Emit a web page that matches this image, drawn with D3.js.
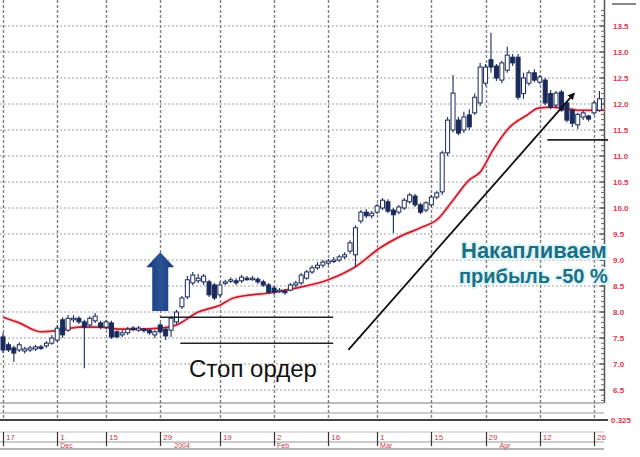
<!DOCTYPE html>
<html><head><meta charset="utf-8">
<script src="https://cdn.jsdelivr.net/npm/d3@7"></script>
<style>body{margin:0;background:#fff}svg{display:block}</style>
</head><body>
<script>
// ---- data ----
const opens  = [7.52,7.37,7.31,7.27,7.25,7.27,7.29,7.33,7.35,7.40,7.46,7.85,7.65,7.85,7.88,7.81,7.75,7.83,7.79,7.71,7.79,7.62,7.56,7.60,7.69,7.65,7.67,7.65,7.56,7.75,7.67,7.65,7.81,8.10,8.29,8.56,8.60,8.58,8.58,8.52,8.33,8.56,8.60,8.60,8.60,8.65,8.63,8.63,8.58,8.52,8.46,8.40,8.40,8.42,8.52,8.56,8.65,8.77,8.85,8.90,8.94,8.98,9.00,9.06,9.17,9.10,9.75,9.92,9.85,9.92,10.00,10.12,9.96,9.92,10.00,10.12,10.23,10.06,9.96,10.06,10.21,10.31,11.06,11.50,11.69,11.50,11.79,11.83,12.02,12.40,12.85,12.73,12.46,12.65,12.90,12.90,12.20,12.40,12.60,12.42,12.46,12.20,11.98,12.23,12.02,11.88,11.60,11.75,11.77,11.83,11.88];
const highs  = [7.60,7.42,7.35,7.42,7.33,7.35,7.37,7.37,7.44,7.56,7.75,7.90,7.94,7.94,7.92,7.85,7.92,7.98,7.83,7.85,7.83,7.65,7.65,7.71,7.73,7.73,7.69,7.67,7.65,7.79,7.71,7.92,8.04,8.31,8.69,8.77,8.73,8.73,8.62,8.56,8.58,8.62,8.67,8.65,8.71,8.69,8.69,8.67,8.62,8.56,8.50,8.46,8.44,8.56,8.60,8.75,8.81,8.90,8.96,9.00,9.02,9.06,9.10,9.15,9.38,9.67,9.96,9.98,9.94,10.08,10.19,10.17,10.00,10.06,10.19,10.29,10.27,10.10,10.13,10.25,10.33,11.10,11.75,12.56,11.75,11.85,11.90,12.20,12.79,12.77,13.37,12.77,12.83,13.10,12.96,12.96,12.60,12.65,12.67,12.56,12.50,12.27,12.25,12.27,12.06,11.92,11.83,11.88,11.79,12.06,12.25];
const lows   = [7.21,7.23,7.04,7.23,7.20,7.23,7.25,7.27,7.31,7.37,7.42,7.50,7.62,7.80,7.77,6.92,7.71,7.79,7.67,7.67,7.48,7.50,7.52,7.56,7.63,7.62,7.60,7.56,7.50,7.58,7.46,7.52,7.77,8.06,8.25,8.52,8.56,8.52,8.29,8.23,8.29,8.52,8.56,8.52,8.56,8.60,8.60,8.54,8.48,8.35,8.33,8.37,8.33,8.40,8.48,8.52,8.62,8.73,8.81,8.85,8.90,8.94,8.96,9.02,9.12,8.88,9.70,9.81,9.80,9.88,9.96,9.90,9.52,9.88,9.96,10.08,10.02,9.88,9.92,10.02,10.17,10.25,11.00,11.45,11.40,11.44,11.50,11.79,11.96,12.35,12.60,12.44,12.40,12.60,12.73,12.08,12.10,12.35,12.42,12.38,11.98,11.90,11.92,11.85,11.65,11.56,11.52,11.69,11.67,11.79,11.85];
const closes = [7.27,7.27,7.21,7.37,7.29,7.31,7.33,7.31,7.40,7.50,7.69,7.56,7.88,7.88,7.81,7.71,7.88,7.92,7.71,7.81,7.52,7.52,7.60,7.67,7.67,7.69,7.65,7.60,7.62,7.62,7.54,7.88,8.00,8.27,8.62,8.71,8.65,8.69,8.33,8.27,8.52,8.58,8.62,8.56,8.67,8.63,8.65,8.58,8.52,8.38,8.38,8.42,8.37,8.52,8.56,8.71,8.77,8.85,8.90,8.96,8.98,9.00,9.06,9.10,9.33,9.62,9.92,9.85,9.90,10.04,10.15,9.94,9.87,10.02,10.15,10.25,10.06,9.92,10.10,10.21,10.29,11.06,11.69,12.21,11.44,11.75,11.56,12.13,12.71,12.71,12.71,12.50,12.79,12.94,12.79,12.13,12.50,12.60,12.46,12.52,12.02,11.94,12.21,11.88,11.69,11.63,11.80,11.83,11.71,12.02,12.10];
// moving average (read at sample points)
const maIdx = [0,3,7,10.5,14,18,21.6,25,29,32,36,40,42.5,50,54,60,65,69.5,73,77,80,83,86,88,90.4,93.5,96.7,98.7,101.3,103.3,106,108.9,111];
const maVal = [7.90,7.79,7.62,7.65,7.71,7.71,7.67,7.67,7.69,7.75,8.00,8.13,8.27,8.38,8.46,8.62,8.87,9.23,9.44,9.62,9.77,10.15,10.54,10.69,11.12,11.56,11.79,11.92,11.94,11.92,11.88,11.88,11.88];
// axes
const yTickVals = [6.5,7.0,7.5,8.0,8.5,9.0,9.5,10.0,10.5,11.0,11.5,12.0,12.5,13.0,13.5];
const xTickIdx = [0,10,19,29,40,50,60,69,79,89,99,109];
const xTickLabels = ["17","1","15","29","19","2","16","1","15","29","12","26"];
const xTickSub = ["","Dec","","2004","","Feb","","Mar","","Apr","",""];
const volLabel = "0.325";
const stopText = "Стоп ордер";
const profitLines = ["Накапливаем","прибыль -50 %"];

// ---- drawing ----
const W=640,H=457;
const svg=d3.select("body").append("svg").attr("width",W).attr("height",H);
const x=d3.scaleLinear().domain([0,109]).range([3,594]);
const y=d3.scaleLinear().domain([6.5,13.5]).range([390,26]);
const plotR=604, plotB=403;

// horizontal grid
svg.append("g").selectAll("line").data(yTickVals).join("line")
  .attr("x1",0).attr("x2",plotR).attr("y1",d=>y(d)).attr("y2",d=>y(d))
  .attr("stroke","#a0a0a0").attr("stroke-width",1).attr("stroke-dasharray","2,2");
// vertical grid
svg.append("g").selectAll("line").data(xTickIdx).join("line")
  .attr("x1",d=>Math.round(x(d))+0.5).attr("x2",d=>Math.round(x(d))+0.5).attr("y1",0).attr("y2",421)
  .attr("stroke","#808080").attr("stroke-width",1.4).attr("stroke-dasharray","3,2");

// right axis
const ax=svg.append("g").attr("transform",`translate(${plotR},0)`);
ax.append("line").attr("x1",0.5).attr("x2",0.5).attr("y1",0).attr("y2",plotB).attr("stroke","#555").attr("stroke-width",1.5);
const minor=d3.range(6.3,13.81,0.1);
ax.selectAll("line.mn").data(minor).join("line").attr("class","mn")
  .attr("x1",-3).attr("x2",0).attr("y1",d=>y(d)).attr("y2",d=>y(d)).attr("stroke","#666");
ax.selectAll("line.mj").data(yTickVals).join("line").attr("class","mj")
  .attr("x1",-5).attr("x2",0).attr("y1",d=>y(d)).attr("y2",d=>y(d)).attr("stroke","#444");
ax.selectAll("text").data(yTickVals).join("text")
  .attr("x",9).attr("y",d=>y(d)+3).text(d=>d.toFixed(1))
  .attr("font-family","Liberation Sans, Arial, sans-serif").attr("font-size",8).attr("font-weight","bold").attr("fill","#d23a4a");
svg.append("line").attr("x1",612).attr("x2",636).attr("y1",4).attr("y2",4).attr("stroke","#888").attr("stroke-width",2);

// bottom panels
svg.append("line").attr("x1",0).attr("x2",plotR).attr("y1",plotB).attr("y2",plotB).attr("stroke","#777").attr("stroke-width",1);
svg.append("line").attr("x1",0).attr("x2",plotR).attr("y1",413).attr("y2",413).attr("stroke","#999").attr("stroke-width",1);
svg.append("line").attr("x1",0).attr("x2",plotR+4).attr("y1",420).attr("y2",420).attr("stroke","#444").attr("stroke-width",2);
svg.append("text").attr("x",611).attr("y",423).text(volLabel)
  .attr("font-family","Liberation Sans, Arial, sans-serif").attr("font-size",8).attr("font-weight","bold").attr("fill","#d23a4a");
svg.append("line").attr("x1",0).attr("x2",plotR).attr("y1",432).attr("y2",432).attr("stroke","#bbb");
svg.append("line").attr("x1",0).attr("x2",plotR).attr("y1",442).attr("y2",442).attr("stroke","#999");
svg.append("line").attr("x1",0).attr("x2",plotR).attr("y1",449).attr("y2",449).attr("stroke","#666").attr("stroke-width",1.2);
const xt=svg.append("g");
xt.selectAll("line").data(xTickIdx).join("line")
  .attr("x1",d=>Math.round(x(d))+0.5).attr("x2",d=>Math.round(x(d))+0.5).attr("y1",432).attr("y2",446)
  .attr("stroke","#333").attr("stroke-width",1.2);
xt.selectAll("text.m").data(xTickIdx).join("text").attr("class","m")
  .attr("x",d=>x(d)+3).attr("y",440).text((d,i)=>xTickLabels[i])
  .attr("font-family","Liberation Sans, Arial, sans-serif").attr("font-size",8).attr("fill","#d23a4a");
xt.selectAll("text.s").data(xTickIdx).join("text").attr("class","s")
  .attr("x",(d,i)=>x(d)+(xTickSub[i]==="2004"||xTickSub[i]==="Apr"?14:3)).attr("y",448).text((d,i)=>xTickSub[i])
  .attr("font-family","Liberation Sans, Arial, sans-serif").attr("font-size",7).attr("fill","#d23a4a");

// moving average
const ma=maIdx.map((d,i)=>[d,maVal[i]]);
const maLine=d3.line().x(d=>x(d[0])).y(d=>y(d[1])).curve(d3.curveMonotoneX);
svg.append("path").datum(ma).attr("d",maLine).attr("fill","none").attr("stroke","#f4b8bf").attr("stroke-width",4).attr("opacity",0.6);
svg.append("path").datum(ma).attr("d",maLine).attr("fill","none").attr("stroke","#c51f2e").attr("stroke-width",1.7);

// candles
const candles=opens.map((o,i)=>({i,o,h:highs[i],l:lows[i],c:closes[i]}));
const navy="#1b2a5c";
const cg=svg.append("g");
cg.selectAll("line").data(candles).join("line")
  .attr("x1",d=>x(d.i)).attr("x2",d=>x(d.i)).attr("y1",d=>y(d.h)).attr("y2",d=>y(d.l))
  .attr("stroke",navy).attr("stroke-width",1.1);
cg.selectAll("rect").data(candles).join("rect")
  .attr("x",d=>x(d.i)-2).attr("width",4)
  .attr("y",d=>y(Math.max(d.o,d.c))).attr("height",d=>Math.max(1.5,Math.abs(y(d.o)-y(d.c))))
  .attr("fill",d=>d.c>=d.o?"#fff":navy).attr("stroke",navy).attr("stroke-width",1);

// annotations: stop lines
const stopLines=[[29,60.9,7.90],[32.7,60.9,7.40],[100.4,111.6,11.31]];
svg.append("g").selectAll("line").data(stopLines).join("line")
  .attr("x1",d=>x(d[0])).attr("x2",d=>x(d[1])).attr("y1",d=>y(d[2])).attr("y2",d=>y(d[2]))
  .attr("stroke","#222").attr("stroke-width",1.6);

// black trend arrow
svg.append("defs").append("marker").attr("id","ah").attr("viewBox","0 0 10 10").attr("refX",8).attr("refY",5)
  .attr("markerWidth",4).attr("markerHeight",4).attr("orient","auto")
  .append("path").attr("d","M0,0L10,5L0,10z").attr("fill","#111");
svg.append("line").attr("x1",x(63.7)).attr("y1",y(7.27)).attr("x2",x(105.3)).attr("y2",y(12.2))
  .attr("stroke","#111").attr("stroke-width",1.8).attr("marker-end","url(#ah)");

// blue up arrow
const ax0=x(29), tipY=y(9.15), botY=y(8.02);
const grad=svg.select("defs").append("linearGradient").attr("id","bg").attr("x1","0").attr("x2","1");
grad.append("stop").attr("offset","0").attr("stop-color","#163a78");
grad.append("stop").attr("offset","0.5").attr("stop-color","#2a5298");
grad.append("stop").attr("offset","1").attr("stop-color","#163a78");
svg.append("path").attr("d",`M${ax0},${tipY} L${ax0+14},${tipY+15} L${ax0+8},${tipY+15} L${ax0+8},${botY} L${ax0-8},${botY} L${ax0-8},${tipY+15} L${ax0-14},${tipY+15} Z`)
  .attr("fill","url(#bg)");

// texts
svg.append("text").attr("x",189).attr("y",377).text(stopText)
  .attr("font-family","Liberation Sans, Arial, sans-serif").attr("font-size",24).attr("fill","#111");
const pt=svg.append("g").attr("font-family","Liberation Sans, Arial, sans-serif").attr("font-weight","bold");
const pX=[461,459], pY=[258,283], pS=[22,20];
pt.selectAll("text.h").data(profitLines).join("text").attr("class","h")
  .attr("x",(d,i)=>pX[i]).attr("y",(d,i)=>pY[i]).attr("font-size",(d,i)=>pS[i]).text(d=>d)
  .attr("fill","none").attr("stroke","#dff6f8").attr("stroke-width",4).attr("stroke-linejoin","round");
pt.selectAll("text.t").data(profitLines).join("text").attr("class","t")
  .attr("x",(d,i)=>pX[i]).attr("y",(d,i)=>pY[i]).attr("font-size",(d,i)=>pS[i]).text(d=>d).attr("fill","#1d6f86");
</script>
</body></html>
